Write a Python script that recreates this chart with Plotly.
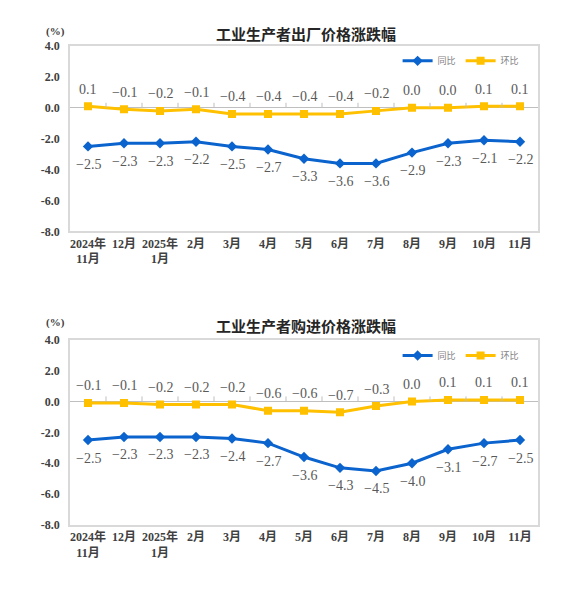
"""
工业生产者价格涨跌幅 (出厂 / 购进) 两张折线图
"""
import plotly.graph_objects as go
from plotly.subplots import make_subplots

# 月份 (2024年11月 - 2025年11月)
MONTHS = ["2024年<br>11月", "12月", "2025年<br>1月", "2月", "3月", "4月", "5月",
          "6月", "7月", "8月", "9月", "10月", "11月"]

# 出厂价格 同比 / 环比
OUT_YOY = [-2.5, -2.3, -2.3, -2.2, -2.5, -2.7, -3.3, -3.6, -3.6, -2.9, -2.3, -2.1, -2.2]
OUT_MOM = [0.1, -0.1, -0.2, -0.1, -0.4, -0.4, -0.4, -0.4, -0.2, 0.0, 0.0, 0.1, 0.1]

# 购进价格 同比 / 环比
IN_YOY = [-2.5, -2.3, -2.3, -2.3, -2.4, -2.7, -3.6, -4.3, -4.5, -4.0, -3.1, -2.7, -2.5]
IN_MOM = [-0.1, -0.1, -0.2, -0.2, -0.2, -0.6, -0.6, -0.7, -0.3, 0.0, 0.1, 0.1, 0.1]

YTICKS = [4, 2, 0, -2, -4, -6, -8]
YTICK_TEXT = ["4.0", "2.0", "0.0", "-2.0", "-4.0", "-6.0", "-8.0"]

TITLES = ["工业生产者出厂价格涨跌幅", "工业生产者购进价格涨跌幅"]

BLUE = "#0B63CE"
YELLOW = "#FFC000"
AXIS_GRAY = "#D9D9D9"
TEXT_DARK = "#404040"
LABEL_GRAY = "#595959"
SERIF = "Liberation Serif, Noto Sans CJK SC"


def fmt(v):
    # 数据标签用长减号
    return f"{v:.1f}".replace("-", "\u2212")


fig = make_subplots(rows=2, cols=1, vertical_spacing=0.226)

panels = [(OUT_YOY, OUT_MOM, "legend"), (IN_YOY, IN_MOM, "legend2")]
for row, (yoy, mom, leg) in enumerate(panels, start=1):
    fig.add_trace(go.Scatter(
        x=MONTHS, y=yoy, name="同比", mode="lines+markers",
        line=dict(color=BLUE, width=3),
        marker=dict(symbol="diamond", size=8, color=BLUE),
        legend=leg,
    ), row=row, col=1)
    fig.add_trace(go.Scatter(
        x=MONTHS, y=mom, name="环比", mode="lines+markers",
        line=dict(color=YELLOW, width=3),
        marker=dict(symbol="square", size=8, color=YELLOW),
        legend=leg,
    ), row=row, col=1)

    # 数据标签: 同比在下, 环比在上
    for m, a, b in zip(MONTHS, yoy, mom):
        fig.add_annotation(x=m, y=a, text=fmt(a), yshift=-18, showarrow=False,
                           font=dict(family=SERIF, size=14, color=LABEL_GRAY),
                           row=row, col=1)
        fig.add_annotation(x=m, y=b, text=fmt(b), yshift=17, showarrow=False,
                           font=dict(family=SERIF, size=14, color=LABEL_GRAY),
                           row=row, col=1)

    # 零轴上的刻度线 (类目之间)
    xref = "x" if row == 1 else "x2"
    yref = "y" if row == 1 else "y2"
    for i in range(1, len(MONTHS)):
        fig.add_shape(
            type="line", xref=xref, yref=yref,
            x0=i - 0.5, x1=i - 0.5, ysizemode="pixel", yanchor=0, y0=0, y1=5,
            line=dict(color="#BFBFBF", width=1),
        )

fig.update_xaxes(
    type="category", range=[-0.5, len(MONTHS) - 0.5],
    showline=True, mirror=True, linecolor=AXIS_GRAY, linewidth=1.5,
    showgrid=False, ticks="",
    tickfont=dict(family=SERIF, size=12, color=TEXT_DARK, weight="bold"),
)
fig.update_yaxes(
    range=[-8, 4], tickvals=YTICKS, ticktext=YTICK_TEXT,
    showline=True, mirror=True, linecolor=AXIS_GRAY, linewidth=1.5,
    showgrid=False, zeroline=True, zerolinecolor="#BFBFBF", zerolinewidth=1,
    ticks="", ticklabelstandoff=6,
    tickfont=dict(family=SERIF, size=12, color=TEXT_DARK, weight="bold"),
)

legend_style = dict(
    orientation="h", xanchor="left", yanchor="middle",
    bgcolor="rgba(0,0,0,0)", font=dict(size=9, color="#7F7F7F"),
    itemwidth=30, tracegroupgap=0,
)

fig.update_layout(
    width=577, height=591,
    margin=dict(l=62, r=47, t=38, b=74),
    paper_bgcolor="white", plot_bgcolor="white",
    font=dict(family=SERIF, color=TEXT_DARK),
    showlegend=True,
    legend=dict(x=0.70, y=0.969, **legend_style),
    legend2=dict(x=0.70, y=0.354, **legend_style),
)

# 标题 和 (%) 单位
title_y = [1.0 + 24 / 479, 0.388 + 26 / 479]
for ty, title in zip(title_y, TITLES):
    fig.add_annotation(
        text=f"<b>{title}</b>", xref="paper", yref="paper",
        x=0.505, y=ty - 12 / 479, xanchor="center", yanchor="middle",
        showarrow=False, font=dict(family="Noto Sans CJK SC", size=15, color="#262626"),
    )
    fig.add_annotation(
        text="<b>(%)</b>", xref="paper", yref="paper",
        x=-0.03, y=ty - 9 / 479, xanchor="center", yanchor="middle",
        showarrow=False, font=dict(family=SERIF, size=11, color=TEXT_DARK),
    )

fig.write_html("out.html")
